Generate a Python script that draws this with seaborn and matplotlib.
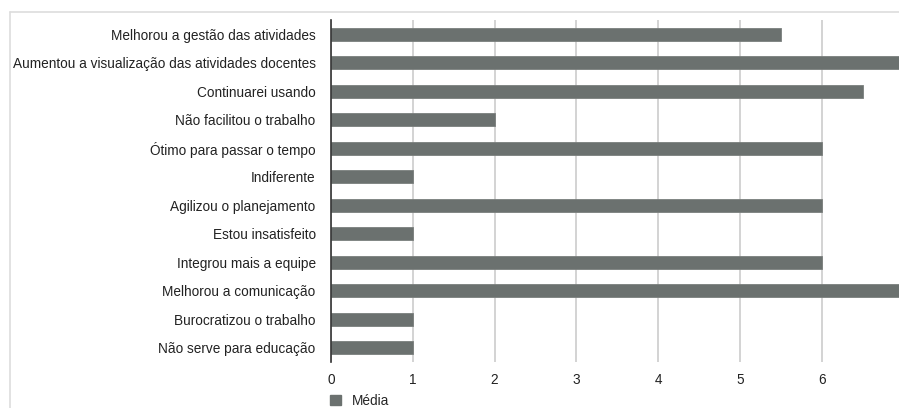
import matplotlib
matplotlib.use("Agg")
import matplotlib.pyplot as plt
import seaborn as sns
import pandas as pd
from matplotlib.patches import Patch
from matplotlib.lines import Line2D

categories = [
    "Melhorou a gestão das atividades",
    "Aumentou a visualização das atividades docentes",
    "Continuarei usando",
    "Não facilitou o trabalho",
    "Ótimo para passar o tempo",
    "Indiferente",
    "Agilizou o planejamento",
    "Estou insatisfeito",
    "Integrou mais a equipe",
    "Melhorou a comunicação",
    "Burocratizou o trabalho",
    "Não serve para educação",
]
media = [5.5, 7, 6.5, 2, 6, 1, 6, 1, 6, 7, 1, 1]
xticks = [0, 1, 2, 3, 4, 5, 6]
series_name = "Média"

df = pd.DataFrame({"cat": categories, "val": media})

sns.set_style("white")
plt.rcParams['font.family'] = ['Liberation Sans', 'DejaVu Sans']

fig = plt.figure(figsize=(8.99, 4.08), dpi=100)
ax = fig.add_axes([331/899, 1-362/408, 1-331/899, (362-20)/408])

bar_color = "#6b716f"
sns.barplot(data=df, y="cat", x="val", orient="h", color=bar_color,
            width=0.46, ax=ax, edgecolor="#7a7f7d", linewidth=0.6, zorder=3,
            saturation=1)

ax.set_xlim(0, (899-331)/81.8)
ax.set_ylim(11.5, -0.5)
ax.set_xticks(xticks)
ax.set_xticklabels([str(t) for t in xticks])
ax.xaxis.grid(True, color="#cccccc", linewidth=1.2, zorder=0)
ax.set_axisbelow(True)
ax.set_xlabel("")
ax.set_ylabel("")
for s in ["top", "right", "bottom"]:
    ax.spines[s].set_visible(False)
ax.spines["left"].set_color("#333333")
ax.spines["left"].set_linewidth(1.2)
ax.spines["left"].set_zorder(5)
ax.tick_params(axis="both", length=0, labelsize=9.85, colors="#222222")
ax.tick_params(axis="y", pad=11)
ax.tick_params(axis="x", pad=8)

# light frame
fig.add_artist(Line2D([10/899, 1], [1-12/408, 1-12/408], color="#dddddd", lw=1.2, transform=fig.transFigure))
fig.add_artist(Line2D([10/899, 10/899], [0, 1-12/408], color="#dddddd", lw=1.2, transform=fig.transFigure))

handle = Patch(facecolor=bar_color, edgecolor=bar_color)
fig.legend([handle], [series_name], loc="center left",
           bbox_to_anchor=(318/899, 1-401/408), frameon=False,
           fontsize=9.85, handlelength=0.8, handleheight=0.8, handletextpad=0.8)

fig.savefig("out.png", dpi=100)
